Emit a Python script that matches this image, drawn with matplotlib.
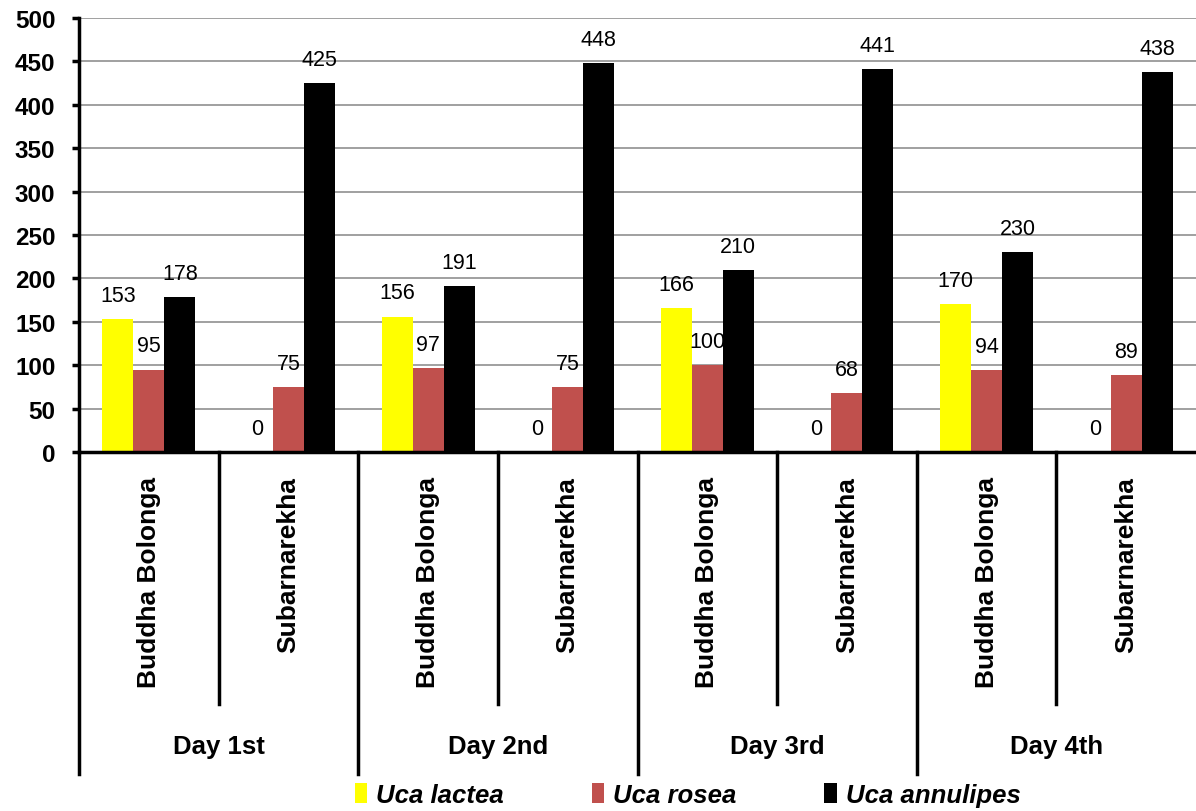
import matplotlib.pyplot as plt
import numpy as np

plt.rcParams['font.family'] = ['Liberation Sans', 'DejaVu Sans']

days = ['Day 1st', 'Day 2nd', 'Day 3rd', 'Day 4th']
sites = ['Buddha Bolonga', 'Subarnarekha'] * 4
lactea = [153, 0, 156, 0, 166, 0, 170, 0]
rosea = [95, 75, 97, 75, 100, 68, 94, 89]
annulipes = [178, 425, 191, 448, 210, 441, 230, 438]

series = [('Uca lactea', lactea, '#FFFF00'),
          ('Uca rosea', rosea, '#C0504D'),
          ('Uca annulipes', annulipes, '#000000')]

fig = plt.figure(figsize=(11.96, 8.12), dpi=100)
ax = fig.add_axes([79 / 1196, 1 - 453 / 812, 1 - 79 / 1196, 434 / 812])

x = np.arange(len(sites)) + 0.5
w = 0.222
for i, (name, vals, col) in enumerate(series):
    pos = x + (i - 1) * w
    ax.bar(pos, vals, width=w, color=col, label=name, zorder=3)
    for px, v in zip(pos, vals):
        ax.annotate(str(v), (px, v), xytext=(0, 17), textcoords='offset points',
                    ha='center', va='center', fontsize=15.5, zorder=4)

ax.set_xlim(0, len(sites))
ax.set_ylim(0, 500)
ax.set_yticks(range(0, 501, 50))
ax.tick_params(axis='y', labelsize=17.5, width=2.5, length=5, direction='out', pad=12)
for lbl in ax.get_yticklabels():
    lbl.set_fontweight('bold')
ax.set_xticks([])
ax.yaxis.grid(True, color='#999999', linewidth=1.3, zorder=0)

for s in ['top', 'right']:
    ax.spines[s].set_visible(False)
ax.spines['left'].set_linewidth(2.5)
ax.spines['bottom'].set_linewidth(2.5)
ax.spines['left'].set_zorder(5)
ax.spines['bottom'].set_zorder(5)

# category dividers and labels below the axis
tr = ax.get_xaxis_transform()
inner_bot = -(705 - 453) / 434
outer_bot = -(775 - 453) / 434
for k in range(len(sites)):
    bot = outer_bot if k % 2 == 0 else inner_bot
    ax.plot([k, k], [0, bot], transform=tr, color='black', lw=2.5, clip_on=False)
    ax.text(x[k], -(477 - 453) / 434, sites[k], transform=tr, rotation=90,
            ha='center', va='top', fontsize=19, fontweight='bold')
for j, d in enumerate(days):
    ax.text(2 * j + 1, -(747 - 453) / 434, d, transform=tr, ha='center',
            va='center', fontsize=18.5, fontweight='bold')

leg = fig.legend(loc='center', bbox_to_anchor=(0.575, 1 - 796 / 812), ncol=3,
                 frameon=False, handlelength=0.5, handleheight=0.8,
                 handletextpad=0.35, columnspacing=3.4,
                 prop={'size': 18.5, 'weight': 'bold', 'style': 'italic'})

plt.savefig('out.png', dpi=100)
